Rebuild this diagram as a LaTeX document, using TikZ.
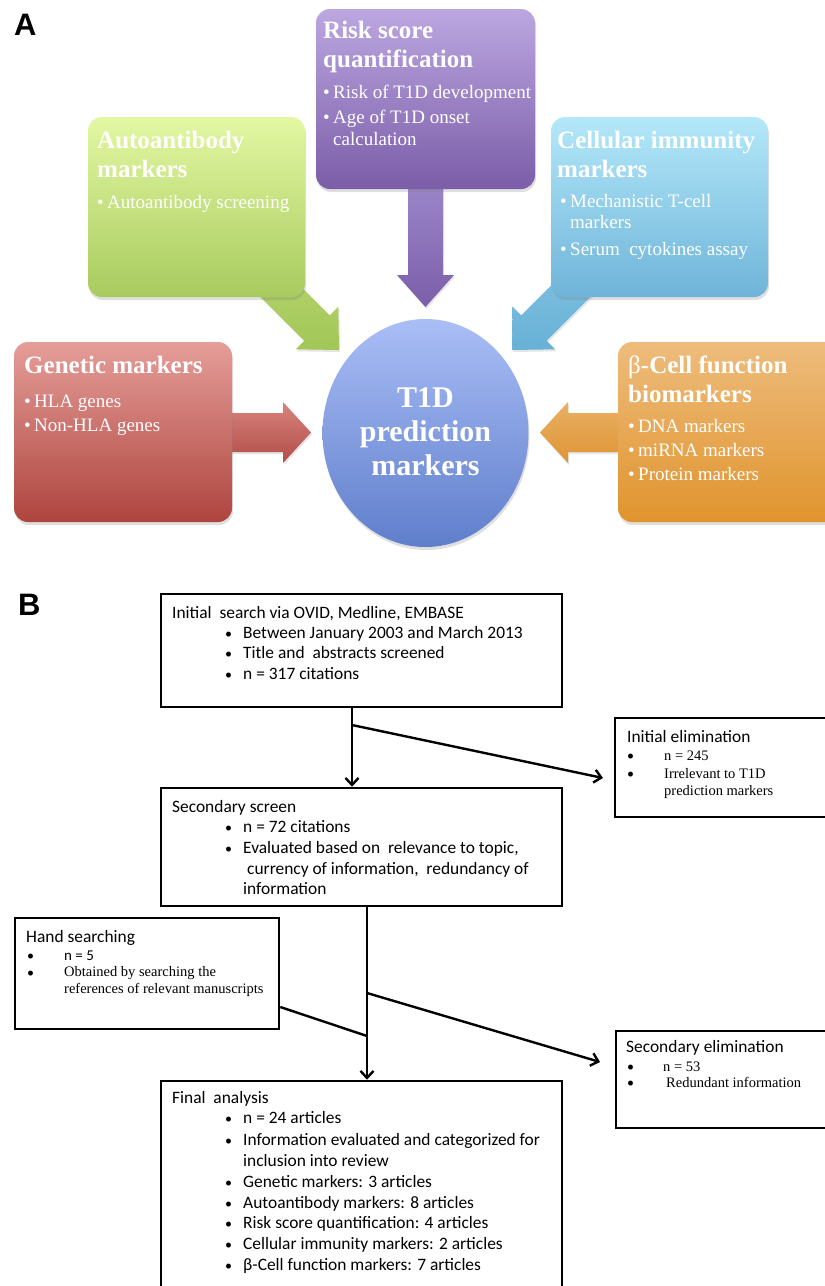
\documentclass[tikz,border=0pt]{standalone}
\usepackage{fontspec}
\usetikzlibrary{arrows.meta,shapes.geometric,shadows}
\setmainfont{Liberation Serif}
\newfontfamily\calib{Carlito}
\newfontfamily\arialf{Liberation Sans}
\newfontfamily\serf{Liberation Serif}
\definecolor{pTop}{HTML}{BCA7E1}\definecolor{pBot}{HTML}{7B5DA8}
\definecolor{gTop}{HTML}{E3F7A3}\definecolor{gBot}{HTML}{A8CB5E}
\definecolor{cTop}{HTML}{B4E8F9}\definecolor{cBot}{HTML}{6FB4D9}
\definecolor{rTop}{HTML}{E59D99}\definecolor{rBot}{HTML}{AE453E}
\definecolor{oTop}{HTML}{EEBC7C}\definecolor{oBot}{HTML}{E0942E}
\definecolor{eTop}{HTML}{AABEF6}\definecolor{eBot}{HTML}{5F7ECB}
\definecolor{paTop}{HTML}{9C87CA}\definecolor{paBot}{HTML}{7B5EA9}
\definecolor{gaTop}{HTML}{B5D56B}\definecolor{gaBot}{HTML}{A2C658}
\definecolor{caTop}{HTML}{80C3E2}\definecolor{caBot}{HTML}{68B0D6}
\definecolor{raTop}{HTML}{D8837E}\definecolor{raBot}{HTML}{B24D47}
\definecolor{oaTop}{HTML}{E9B064}\definecolor{oaBot}{HTML}{DF9535}
\newcommand\bA{\makebox[10pt][l]{•}}
\newcommand\sbul{{\fontsize{14}{14}\selectfont •}}
\newcommand\bB{\makebox[18pt][l]{\sbul}}
\tikzset{
  panelbox/.style={rounded corners=14pt, inner sep=0pt, drop shadow={opacity=0.25, shadow xshift=1pt, shadow yshift=-3pt}},
  arrshape/.style={drop shadow={opacity=0.2, shadow xshift=1pt, shadow yshift=-2pt}},
  wt/.style={anchor=base west, inner sep=0pt, text=white},
  ttl/.style={wt, font=\serf\bfseries\fontsize{25}{29}\selectfont},
  itm/.style={wt, font=\serf\fontsize{19}{22}\selectfont},
  ctr/.style={anchor=base, inner sep=0pt, text=white, font=\serf\bfseries\fontsize{30}{30}\selectfont},
  fbox/.style={draw, line width=2.6pt, inner sep=0pt},
  conn/.style={line width=2.4pt},
  arr/.style={conn, -{Straight Barb[length=7pt,width=13pt]}},
  bt/.style={anchor=base west, inner sep=0pt, font=\calib\fontsize{17.4}{20}\selectfont},
  tm/.style={anchor=base west, inner sep=0pt, font=\serf\fontsize{14.5}{17}\selectfont},
  plab/.style={anchor=base west, inner sep=0pt, font=\arialf\bfseries\fontsize{31}{31}\selectfont},
}
\begin{document}
\begin{tikzpicture}[x=1pt,y=-1pt]
\useasboundingbox (0,0) rectangle (825,1286);
\clip (0,0) rectangle (825,1286);
\fill[white] (0,0) rectangle (825,1286);

% ---------- Panel A ----------
\node[plab] (labA) at (14,35) {A};

% block arrows (under the boxes)
\shade[arrshape, top color=paTop, bottom color=paBot] (408,180) -- (408,275) -- (397,275) -- (425.5,307) -- (454,275) -- (443,275) -- (443,180) -- cycle;
\shade[arrshape, top color=raTop, bottom color=raBot] (225,413) -- (283,413) -- (283,402) -- (311,432.5) -- (283,463) -- (283,452) -- (225,452) -- cycle;
\shade[arrshape, top color=oaTop, bottom color=oaBot] (626,413) -- (568,413) -- (568,402) -- (540,432.5) -- (568,463) -- (568,452) -- (626,452) -- cycle;
\shade[arrshape, top color=gaTop, bottom color=gaBot] (247.8,284.2) -- (304.4,340.8) -- (295.9,349.3) -- (339,350) -- (338.3,306.9) -- (329.8,315.4) -- (273.2,258.8) -- cycle;
\shade[arrshape, top color=caTop, bottom color=caBot] (603.2,284.2) -- (546.6,340.8) -- (555.1,349.3) -- (512,350) -- (512.7,306.9) -- (521.2,315.4) -- (577.8,258.8) -- cycle;

% boxes
\node[panelbox, top color=pTop, bottom color=pBot, minimum width=219pt, minimum height=180pt] (risk) at (425.5,99) {};
\node[panelbox, top color=gTop, bottom color=gBot, minimum width=217pt, minimum height=180pt] (auto) at (196.5,207) {};
\node[panelbox, top color=cTop, bottom color=cBot, minimum width=217pt, minimum height=180pt] (cell) at (659.5,207) {};
\node[panelbox, top color=rTop, bottom color=rBot, minimum width=218pt, minimum height=180pt] (gen) at (123,432) {};
\node[panelbox, top color=oTop, bottom color=oBot, minimum width=227pt, minimum height=180pt] (beta) at (731.5,432) {};
\node[ellipse, inner sep=0pt, top color=eTop, bottom color=eBot, minimum width=206pt, minimum height=228pt, drop shadow={opacity=0.25, shadow xshift=1pt, shadow yshift=-3pt}] (ell) at (425.5,433) {};

% texts panel A
\node[ttl] (riskT1) at (323,38) {Risk score};
\node[ttl] (riskT2) at (323,67) {quantification};
\node[itm] (riskI1) at (323,98) {\bA Risk of T1D development};
\node[itm] (riskI2) at (323,123) {\bA Age of T1D onset};
\node[itm] (riskI3) at (333,145) {calculation};

\node[ttl] (autoT1) at (97,148) {Autoantibody};
\node[ttl] (autoT2) at (97,177) {markers};
\node[itm] (autoI1) at (97,208) {\bA Autoantibody screening};

\node[ttl] (cellT1) at (557,148) {Cellular immunity};
\node[ttl] (cellT2) at (557,177) {markers};
\node[itm] (cellI1) at (560,207) {\bA Mechanistic T-cell};
\node[itm] (cellI2) at (570,228) {markers};
\node[itm] (cellI3) at (560,255) {\bA Serum\ \ cytokines assay};

\node[ttl] (genT1) at (24,373) {Genetic markers};
\node[itm] (genI1) at (24,407) {\bA HLA genes};
\node[itm] (genI2) at (24,431) {\bA Non-HLA genes};

\node[ttl] (betaT1) at (628,373) {{\mdseries β}-Cell function};
\node[ttl] (betaT2) at (628,402) {biomarkers};
\node[itm] (betaI1) at (628,432) {\bA DNA markers};
\node[itm] (betaI2) at (628,456) {\bA miRNA markers};
\node[itm] (betaI3) at (628,480) {\bA Protein markers};

\node[ctr] (ellT1) at (425.5,407) {T1D};
\node[ctr] (ellT2) at (425.5,441) {prediction};
\node[ctr] (ellT3) at (425.5,475) {markers};

% ---------- Panel B ----------
\node[plab] (labB) at (18,615) {B};

\node[fbox, minimum width=401pt, minimum height=113pt] (b1) at (361.5,650.5) {};
\node[fbox, minimum width=401pt, minimum height=118pt] (b2) at (361.5,847) {};
\node[fbox, minimum width=264pt, minimum height=111pt] (hand) at (147,973.5) {};
\node[fbox, minimum width=220pt, minimum height=99pt] (ie) at (725,767.5) {};
\node[fbox, minimum width=220pt, minimum height=97pt] (se) at (726,1079.5) {};
\node[fbox, minimum width=401pt, minimum height=229pt] (fin) at (361.5,1195.5) {};

% connectors
\coordinate (j1) at (352,725);
\coordinate (t1) at (603,778);
\coordinate (j2) at (367,993);
\coordinate (j3) at (367,1036);
\coordinate (t2) at (600,1062);
\coordinate (h1) at (0,1007);
\draw[arr] (b1.south -| j1) -- (b2.north -| j1);
\draw[arr] (j1) -- (t1);
\draw[arr] (b2.south -| j2) -- (fin.north -| j2);
\draw[arr] (j2) -- (t2);
\draw[conn] (hand.east |- h1) -- (j3);

% texts panel B
\node[bt] (b1T) at (172,618) {Initial\ \ search via OVID, Medline, EMBASE};
\node[bt] (b1I1) at (225,638) {\bB Between January 2003 and March 2013};
\node[bt] (b1I2) at (225,658) {\bB Title and\ \ abstracts screened};
\node[bt] (b1I3) at (225,679) {\bB n = 317 citations};

\node[bt] (b2T) at (172,812) {Secondary screen};
\node[bt] (b2I1) at (225,832) {\bB n = 72 citations};
\node[bt] (b2I2) at (225,853) {\bB Evaluated based on\ \ relevance to topic,};
\node[bt] (b2I3) at (247,874) {currency of information,\ \ redundancy of};
\node[bt] (b2I4) at (243,894) {information};

\node[bt] (ieT) at (627,742) {Initial elimination};
\node[bt] (ieB1) at (627,760) {\sbul};
\node[tm] (ieI1) at (664,760) {n = 245};
\node[bt] (ieB2) at (627,778) {\sbul};
\node[tm] (ieI2) at (664,778) {Irrelevant to T1D};
\node[tm] (ieI3) at (664,795) {prediction markers};

\node[bt] (hT) at (26,942) {Hand searching};
\node[bt] (hB1) at (27,960) {\sbul};
\node[bt, font=\calib\fontsize{15}{17}\selectfont] (hI1) at (64,960) {n = 5};
\node[bt] (hB2) at (27,977) {\sbul};
\node[tm] (hI2) at (64,976) {Obtained by searching the};
\node[tm] (hI3) at (64,993) {references of relevant manuscripts};

\node[bt] (seT) at (626,1052) {Secondary elimination};
\node[bt] (seB1) at (627,1071) {\sbul};
\node[tm] (seI1) at (663,1071) {n = 53};
\node[bt] (seB2) at (627,1087) {\sbul};
\node[tm] (seI2) at (666,1087) {Redundant information};

\node[bt] (fT) at (172,1103) {Final\ \ analysis};
\node[bt] (fI1) at (225,1123) {\bB n = 24 articles};
\node[bt] (fI2) at (225,1145) {\bB Information evaluated and categorized for};
\node[bt] (fI3) at (243,1166) {inclusion into review};
\node[bt] (fI4) at (225,1187) {\bB Genetic markers: 3 articles};
\node[bt] (fI5) at (225,1208) {\bB Autoantibody markers: 8 articles};
\node[bt] (fI6) at (225,1228) {\bB Risk score quantification: 4 articles};
\node[bt] (fI7) at (225,1249) {\bB Cellular immunity markers: 2 articles};
\node[bt] (fI8) at (225,1270) {\bB β-Cell function markers: 7 articles};
\end{tikzpicture}
\end{document}
